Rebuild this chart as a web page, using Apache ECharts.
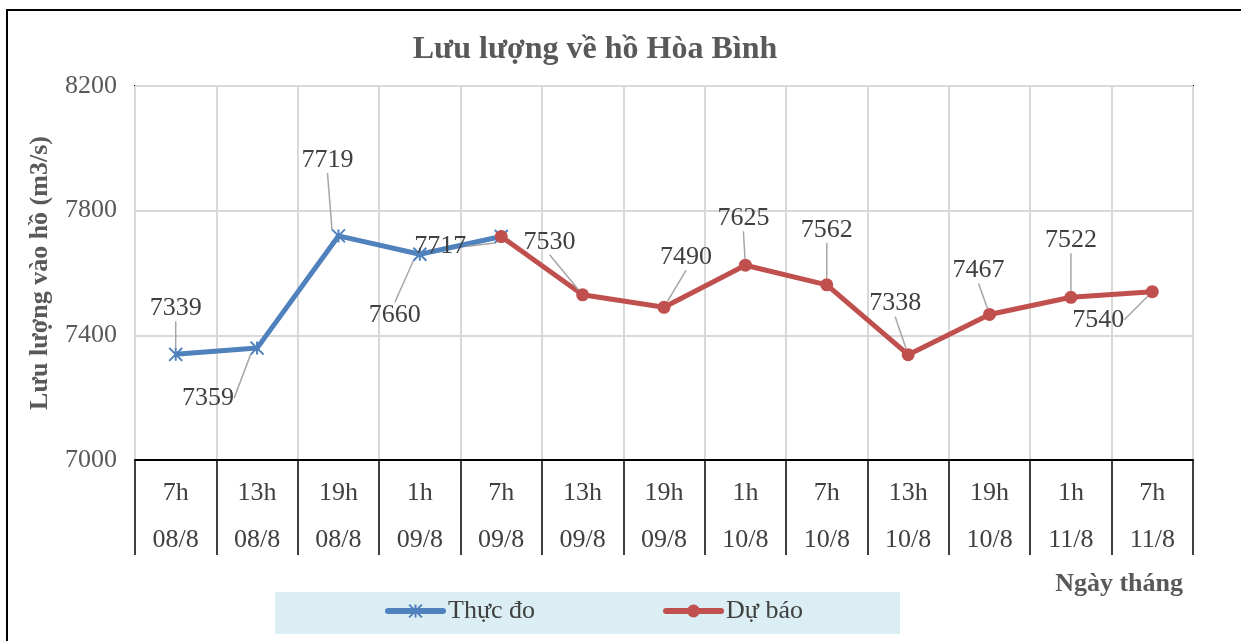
<!DOCTYPE html>
<html>
<head>
<meta charset="utf-8">
<script src="https://cdn.jsdelivr.net/npm/echarts@6/dist/echarts.min.js"></script>
<style>
html,body{margin:0;padding:0;background:#fff;}
#chart{width:1241px;height:641px;}
</style>
</head>
<body>
<div id="chart"></div>
<script>
// ---- data ----
var hours = ['7h','13h','19h','1h','7h','13h','19h','1h','7h','13h','19h','1h','7h'];
var dates = ['08/8','08/8','08/8','09/8','09/8','09/8','09/8','10/8','10/8','10/8','10/8','11/8','11/8'];
var observed = [7339, 7359, 7719, 7660, 7717, null, null, null, null, null, null, null, null];
var forecast = [null, null, null, null, 7717, 7530, 7490, 7625, 7562, 7338, 7467, 7522, 7540];
var yTicks = [7000, 7400, 7800, 8200];

// ---- label placement (style) ----
var obsLabelOffset = [[0,-46],[-49,50],[-11,-76],[-25,61],[-61,10]];
var fcLabelOffset = [null,null,null,null,null,[-33,-53],[22,-50],[-2,-47],[0,-55],[-13,-51],[-11,-44],[0,-57],[-54,28]];
var hiddenForecastLabel = 4;

var FONT = "'Liberation Serif', 'Times New Roman', serif";
var categories = hours.map(function(h,i){ return h + '\n' + dates[i]; });

var fcData = forecast.map(function(v,i){
  if (i === hiddenForecastLabel) return {value: v, label:{show:false}, labelLine:{show:false}};
  return v;
});

var chart = echarts.init(document.getElementById('chart'));
chart.setOption({
  animation: false,
  backgroundColor: '#fff',
  graphic: [
    {type:'rect', shape:{x:7,y:10,width:1300,height:700}, style:{fill:'none', stroke:'#000', lineWidth:2}, silent:true, z:-1},
    {type:'rect', shape:{x:275,y:592,width:625,height:42}, style:{fill:'#DAEEF3'}, silent:true, z:-1},
    {type:'text', x:595, y:50, style:{text:'Lưu lượng về hồ Hòa Bình', font:'bold 32px ' + FONT, fill:'#595959', textAlign:'center', textVerticalAlign:'middle'}},
    {type:'text', x:1183, y:584, style:{text:'Ngày tháng', font:'bold 26px ' + FONT, fill:'#595959', textAlign:'right', textVerticalAlign:'middle'}}
  ],
  legend: {
    left: 385, top: 598,
    itemWidth: 55, itemHeight: 16, itemGap: 128,
    padding: 0,
    lineStyle: {width: 6, cap: 'round'},
    textStyle: {fontFamily: FONT, fontSize: 26, color: '#404040'},
    data: ['Thực đo','Dự báo']
  },
  grid: {left:135, right:48, top:86, bottom:181, show:true, borderColor:'#000', borderWidth:2, backgroundColor:'transparent'},
  xAxis: {
    type: 'category',
    data: categories,
    boundaryGap: true,
    axisLine: {lineStyle:{color:'#000', width:2}},
    axisTick: {show:true, interval:0, length:95, lineStyle:{color:'#000', width:1.5}},
    splitLine: {show:true, interval:0, lineStyle:{color:'#d9d9d9', width:2}},
    axisLabel: {interval:0, fontFamily:FONT, fontSize:26, color:'#404040', lineHeight:47, margin:10}
  },
  yAxis: {
    type: 'value',
    min: yTicks[0], max: yTicks[yTicks.length-1], interval: yTicks[1]-yTicks[0],
    name: 'Lưu lượng vào hồ (m3/s)',
    nameLocation: 'middle', nameRotate: 90, nameGap: 82,
    nameTextStyle: {fontFamily:FONT, fontSize:26, fontWeight:'bold', color:'#595959'},
    axisLine: {show:false},
    axisTick: {show:false},
    splitLine: {lineStyle:{color:'#d9d9d9', width:2}},
    axisLabel: {fontFamily:FONT, fontSize:26, color:'#595959', margin:18, formatter: function(v){ return String(v); }}
  },
  series: [
    {
      name: 'Thực đo', type: 'line', data: observed,
      symbol: 'path://M0,0L10,10M10,0L0,10M5,0L5,10', symbolSize: 13,
      lineStyle: {color:'#4F81BD', width:5},
      itemStyle: {color:'#4F81BD', borderColor:'#4F81BD', borderWidth:2},
      label: {show:true, position:'inside', fontFamily:FONT, fontSize:26, color:'#404040'},
      labelLine: {show:true, lineStyle:{color:'#a6a6a6', width:1.5}},
      labelLayout: function(p){ var o = obsLabelOffset[p.dataIndex]; return o ? {dx:o[0], dy:o[1]} : {}; },
      z: 3
    },
    {
      name: 'Dự báo', type: 'line', data: fcData,
      symbol: 'circle', symbolSize: 13,
      lineStyle: {color:'#C0504D', width:5},
      itemStyle: {color:'#C0504D'},
      label: {show:true, position:'inside', fontFamily:FONT, fontSize:26, color:'#404040'},
      labelLine: {show:true, lineStyle:{color:'#a6a6a6', width:1.5}},
      labelLayout: function(p){ var o = fcLabelOffset[p.dataIndex]; return o ? {dx:o[0], dy:o[1]} : {}; },
      z: 4
    }
  ]
});
</script>
</body>
</html>
